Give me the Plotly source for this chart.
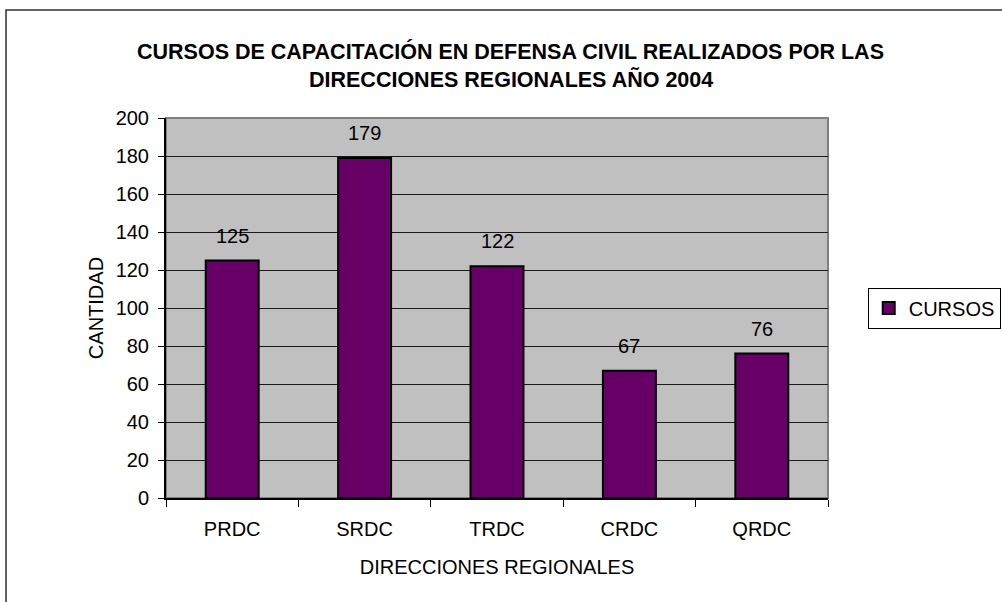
import plotly.graph_objects as go

# ── Data ─────────────────────────────────────────────────────────────
DIRECCIONES = ["PRDC", "SRDC", "TRDC", "CRDC", "QRDC"]
CURSOS = [125, 179, 122, 67, 76]
Y_TICKS = [0, 20, 40, 60, 80, 100, 120, 140, 160, 180, 200]

TITLE_L1 = "CURSOS DE CAPACITACIÓN EN DEFENSA CIVIL REALIZADOS POR LAS"
TITLE_L2 = "DIRECCIONES REGIONALES AÑO 2004"

# ── Palette ──────────────────────────────────────────────────────────
BAR_COLOR = "#660066"
PLOT_BG = "#C0C0C0"
GRID = "#1a1a1a"
FRAME = "#808080"
FONT = "Arial, Liberation Sans, sans-serif"

fig = go.Figure()

fig.add_trace(go.Bar(
    x=DIRECCIONES,
    y=CURSOS,
    name="CURSOS",
    width=0.4,
    marker=dict(color=BAR_COLOR, line=dict(color="black", width=2)),
))

# value labels above each bar
for cat, val in zip(DIRECCIONES, CURSOS):
    fig.add_annotation(
        x=cat, y=val, text=str(val),
        showarrow=False, yanchor="bottom", yshift=12,
        font=dict(size=20, color="black", family=FONT),
    )

# title lines
for txt, yy in [(TITLE_L1, 1.176), (TITLE_L2, 1.10)]:
    fig.add_annotation(
        x=0.521, y=yy, xref="paper", yref="paper",
        text=f"<b>{txt}</b>", showarrow=False,
        xanchor="center", yanchor="middle",
        font=dict(size=21.5, color="black", family=FONT),
    )

# plot frame (gray top/right) and outer chart border
fig.add_shape(type="rect", xref="paper", yref="paper",
              x0=0, x1=1, y0=0, y1=1,
              line=dict(color=FRAME, width=2), layer="below")
fig.add_shape(type="rect", xref="paper", yref="paper",
              x0=-0.2417, x1=1.31, y0=-0.33, y1=1.284,
              line=dict(color="#303030", width=1.5), layer="below")

fig.update_layout(
    width=1002, height=602,
    paper_bgcolor="white",
    plot_bgcolor=PLOT_BG,
    font=dict(family=FONT, size=20, color="black"),
    margin=dict(l=166, r=174, t=118, b=104, autoexpand=False),
    showlegend=True,
    legend=dict(
        x=1.06, y=0.5, xanchor="left", yanchor="middle",
        bgcolor="white", bordercolor="black", borderwidth=1,
        font=dict(size=20, family=FONT),
    ),
    bargap=0.6,
    xaxis=dict(
        title=dict(text="DIRECCIONES REGIONALES", standoff=21,
                   font=dict(size=20)),
        showline=True, linecolor="black", linewidth=2,
        ticks="outside", tickson="boundaries", ticklen=7,
        tickcolor="black", tickwidth=1,
        ticklabelstandoff=12,
        tickfont=dict(size=20),
        showgrid=False, zeroline=False,
    ),
    yaxis=dict(
        title=dict(text="CANTIDAD", standoff=7, font=dict(size=20)),
        range=[0, 200], tickvals=Y_TICKS,
        showline=True, linecolor="black", linewidth=2,
        ticks="outside", ticklen=6, tickcolor="black", tickwidth=1,
        ticklabelstandoff=5,
        tickfont=dict(size=20),
        showgrid=True, gridcolor=GRID, gridwidth=1,
        zeroline=False,
    ),
)

# page has a default body margin; drop it so the chart sits at 0,0
fig.write_html(
    "out.html",
    config={"displayModeBar": False},
    post_script="document.body.style.margin='0';",
)
